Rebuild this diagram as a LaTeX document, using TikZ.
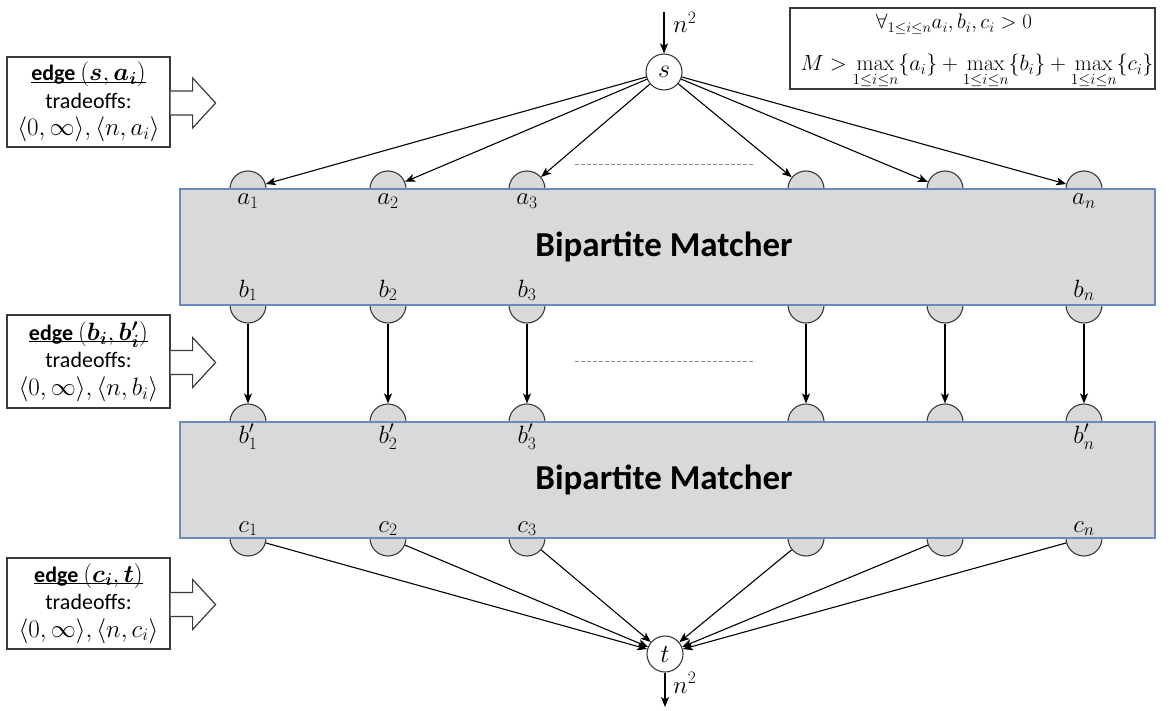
\RequirePackage{fix-cm}
\documentclass[tikz,border=0pt]{standalone}
\usepackage{amsmath}
\usepackage{bm}
\usepackage[no-math]{fontspec}
\setmainfont{Carlito}
\usetikzlibrary{arrows.meta,calc}

\definecolor{portfill}{HTML}{D9D9D9}
\definecolor{linec}{HTML}{3A3A3A}
\definecolor{matchblue}{HTML}{6A89BE}
\definecolor{gapgray}{HTML}{8C8C8C}

% math set a little larger than the surrounding text
\newcommand\mth[1]{{\fontsize{25}{27.5}\selectfont$#1$}}
% underline drawn close to the baseline
\newcommand\edgehead[1]{\setbox0\hbox{#1}\rlap{\rule[-2.2pt]{\wd0}{1.3pt}}\box0}

\tikzset{
  port/.style={circle, draw=linec, fill=portfill, minimum size=36pt, inner sep=0pt, line width=1.1pt},
  term/.style={circle, draw=linec, fill=white, minimum size=36pt, inner sep=0pt, line width=1.1pt,
               font=\fontsize{26}{28}\selectfont},
  matcher/.style={draw=matchblue, fill=portfill, line width=1.3pt, minimum width=975pt,
                  minimum height=116pt, inner sep=0pt, font=\fontsize{35}{40}\selectfont\bfseries},
  flow/.style={-{Stealth[length=10pt,width=8pt,inset=2.5pt]}, line width=1.1pt, draw=black},
  lbl/.style={font=\fontsize{25}{28}\selectfont, inner sep=0pt, anchor=base},
  condline/.style={inner sep=0pt, anchor=base},
  infobox/.style={draw=linec, line width=1.2pt, minimum width=163pt, inner sep=0pt, align=center,
                  font=\fontsize{22}{27.5}\selectfont},
  blockarrow/.style={draw=linec, line width=1.2pt, fill=white},
  gap/.style={draw=gapgray, line width=0.9pt, dash pattern=on 4pt off 2pt},
  condbox/.style={draw=linec, line width=1.2pt, minimum width=365pt, minimum height=81pt, inner sep=0pt}
}

\begin{document}
\begin{tikzpicture}[x=1pt, y=-1pt]
\useasboundingbox (0,0) rectangle (1169,711);

% source and sink
\node[term] (s) at (664,72) {$s$};
\node[term] (t) at (665,654) {$t$};
\coordinate (sin) at (664,12);
\coordinate (tout) at (665,707);

% half-visible ports of the two matchers
\foreach \x [count=\i] in {248,388,527,806,945,1084} {
  \node[port] (a\i) at (\x,189) {};
  \node[port] (b\i) at (\x,305) {};
  \node[port] (bp\i) at (\x,422) {};
  \node[port] (c\i) at (\x,538) {};
}

% the two bipartite matchers
\node[matcher] (m1) at (667.5,247) {\hspace*{-7pt}Bipartite Matcher};
\node[matcher] (m2) at (667.5,480) {\hspace*{-7pt}Bipartite Matcher};

% port labels
\foreach \x/\k [count=\i] in {248/1,388/2,527/3} {
  \node[lbl] (la\i) at (\x,205) {$a_\k$};
  \node[lbl] (lb\i) at (\x,297) {$b_\k$};
  \node[lbl] (lbp\i) at (\x,443) {$b'_\k$};
  \node[lbl] (lc\i) at (\x,532) {$c_\k$};
}
\node[lbl] (lan) at (1084,205) {$a_n$};
\node[lbl] (lbn) at (1084,297) {$b_n$};
\node[lbl] (lbpn) at (1084,443) {$b'_n$};
\node[lbl] (lcn) at (1084,532) {$c_n$};

% flow edges
\draw[flow] (sin) -- (s);
\draw[flow] (t) -- (tout);
\node[lbl, anchor=base west] (nin) at (673,33) {$n^2$};
\node[lbl, anchor=base west] (nout) at (673,693) {$n^2$};
\foreach \i in {1,...,6} {
  \draw[flow] (s) -- (a\i);
  \draw[flow] (b\i) -- (bp\i);
  \draw[flow] (c\i) -- (t);
}

% elided columns
\coordinate (g1l) at (575,164);
\coordinate (g1r) at (755,164);
\coordinate (g2l) at (575,361);
\coordinate (g2r) at (755,361);
\draw[gap] (g1l) -- (g1r);
\draw[gap] (g2l) -- (g2r);

% condition box
\node[condbox] (cond) at (972.5,48.5) {};
\node[condline, font=\fontsize{21}{26}\selectfont] (cond1) at (954,29) {$\forall_{1\le i\le n} a_i, b_i, c_i > 0$};
\node[condline, font=\fontsize{22}{26}\selectfont] (cond2) at (977,71) {$M > \max\limits_{1\le i\le n}\{a_i\} + \max\limits_{1\le i\le n}\{b_i\} + \max\limits_{1\le i\le n}\{c_i\}$};

% edge tradeoff notes
\node[infobox, minimum height=90pt] (e1) at (88.5,102)
  {\edgehead{\textbf{edge} \mth{(\bm{s},\bm{a_i})}}\\ tradeoffs:\\ \mth{\langle 0,\infty\rangle,\langle n,a_i\rangle}};
\node[infobox, minimum height=93pt] (e2) at (88.5,361.5)
  {\edgehead{\textbf{edge} \mth{(\bm{b_i},\bm{b'_i})}}\\ tradeoffs:\\ \mth{\langle 0,\infty\rangle,\langle n,b_i\rangle}};
\node[infobox, minimum height=91pt] (e3) at (88.5,603.5)
  {\edgehead{\textbf{edge} \mth{(\bm{c_i},\bm{t})}}\\ tradeoffs:\\ \mth{\langle 0,\infty\rangle,\langle n,c_i\rangle}};

\foreach \e in {e1,e2,e3} {
  \draw[blockarrow] ($(\e.east)+(0,-11)$) -- ++(22,0) -- ++(0,-13) -- ++(23,25)
    -- ++(-23,25) -- ++(0,-13) -- ++(-22,0);
}
\end{tikzpicture}
\end{document}
